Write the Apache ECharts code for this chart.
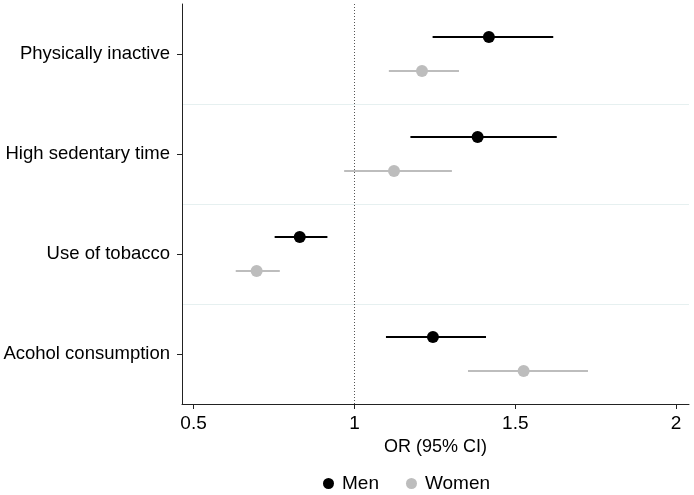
<!DOCTYPE html>
<html>
<head>
<meta charset="utf-8">
<script src="https://cdn.jsdelivr.net/npm/echarts@6/dist/echarts.min.js"></script>
<style>html,body{margin:0;padding:0;background:#fff}#c{width:694px;height:495px}</style>
</head>
<body>
<div id="c"></div>
<script>
var categories = ['Physically inactive', 'High sedentary time', 'Use of tobacco', 'Acohol consumption'];
var menOR = [1.418, 1.383, 0.830, 1.244];
var menLow = [1.243, 1.174, 0.752, 1.098];
var menHigh = [1.618, 1.629, 0.916, 1.409];
var womenOR = [1.210, 1.123, 0.696, 1.526];
var womenLow = [1.107, 0.968, 0.631, 1.353];
var womenHigh = [1.325, 1.303, 0.768, 1.726];
var xTicks = [0.5, 1, 1.5, 2];

var FONT = '"Liberation Sans", Arial, Helvetica, sans-serif';
var OFF = 17;
var MEN_COLOR = '#000000';
var WOMEN_COLOR = '#bdbdbd';

function ciSeries(name, lows, highs, color, off) {
  return {
    name: name,
    type: 'custom',
    z: 2,
    silent: true,
    data: lows.map(function (l, i) { return [l, highs[i], i]; }),
    encode: { x: [0, 1], y: 2 },
    renderItem: function (params, api) {
      var a = api.coord([api.value(0), api.value(2)]);
      var b = api.coord([api.value(1), api.value(2)]);
      return {
        type: 'line',
        shape: { x1: a[0], y1: a[1] + off, x2: b[0], y2: b[1] + off },
        style: { stroke: color, lineWidth: 2 }
      };
    }
  };
}

function ptSeries(name, vals, color, off) {
  return {
    name: name,
    type: 'scatter',
    z: 5,
    symbol: 'circle',
    symbolSize: 12,
    symbolOffset: [0, off],
    itemStyle: { color: color, opacity: 1 },
    data: vals.map(function (v, i) { return [v, i]; })
  };
}

var chart = echarts.init(document.getElementById('c'), null, { renderer: 'canvas' });
var men = ptSeries('Men', menOR, MEN_COLOR, -OFF);
men.markLine = {
  silent: true,
  symbol: 'none',
  label: { show: false },
  lineStyle: { color: '#555', type: [1, 2], width: 1, opacity: 1 },
  data: [{ xAxis: 1 }]
};
chart.setOption({
  animation: false,
  textStyle: { fontFamily: FONT },
  grid: { left: 182, right: 5, top: 4, bottom: 91, containLabel: false, outerBoundsMode: 'none' },
  xAxis: {
    type: 'value',
    min: 0.464,
    max: 2.04,
    name: 'OR (95% CI)',
    nameLocation: 'middle',
    nameGap: 26,
    nameTextStyle: { color: '#000', fontSize: 18, fontFamily: FONT },
    axisLine: { show: true, onZero: false, lineStyle: { color: '#222', width: 1 } },
    axisTick: { show: true, length: 5, lineStyle: { color: '#222' }, customValues: xTicks },
    axisLabel: { color: '#000', fontSize: 19, fontFamily: FONT, margin: 10, customValues: xTicks,
      formatter: function (v) { return String(v); } },
    splitLine: { show: false }
  },
  yAxis: {
    type: 'category',
    inverse: true,
    data: categories,
    boundaryGap: true,
    axisLine: { show: true, lineStyle: { color: '#222', width: 1 } },
    axisTick: { show: true, alignWithLabel: true, length: 5, lineStyle: { color: '#222' } },
    axisLabel: { color: '#000', fontSize: 18.5, fontFamily: FONT, margin: 12 },
    splitLine: { show: true, interval: function (index) { return index > 0; },
      lineStyle: { color: '#e6f0f0', width: 1 } }
  },
  legend: {
    data: ['Men', 'Women'],
    left: 318,
    top: 469,
    icon: 'circle',
    itemWidth: 11,
    itemHeight: 11,
    itemGap: 27,
    textStyle: { color: '#000', fontSize: 19, fontFamily: FONT, padding: [0, 0, 0, 3] }
  },
  series: [
    ciSeries('Men CI', menLow, menHigh, MEN_COLOR, -OFF),
    ciSeries('Women CI', womenLow, womenHigh, WOMEN_COLOR, OFF),
    men,
    ptSeries('Women', womenOR, WOMEN_COLOR, OFF)
  ]
});
</script>
</body>
</html>
